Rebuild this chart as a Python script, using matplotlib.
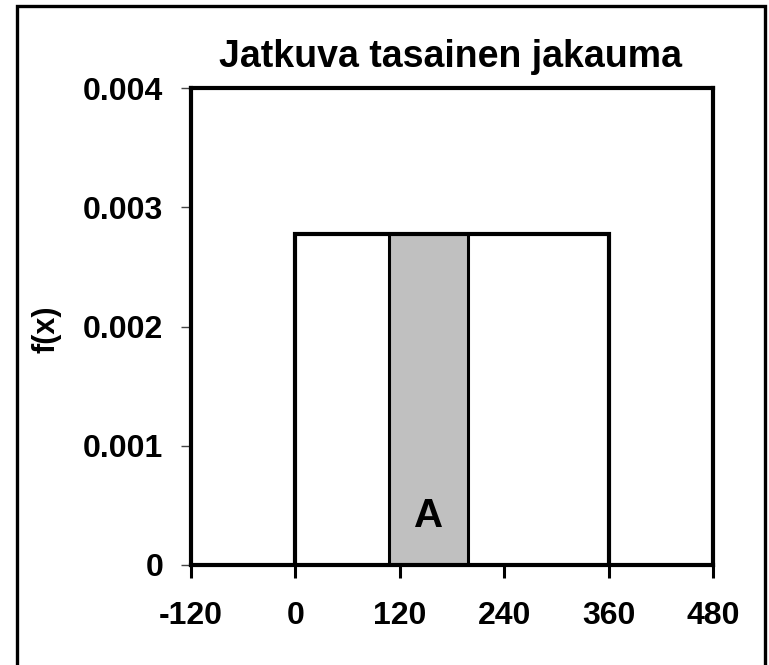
import matplotlib
matplotlib.use("Agg")
import matplotlib.pyplot as plt
from matplotlib.patches import Rectangle

plt.rcParams['font.family'] = ['Liberation Sans', 'DejaVu Sans']
plt.rcParams['font.weight'] = 'bold'

# Data
a, b = 0, 360                 # uniform distribution support
density = 1.0 / (b - a)       # f(x)
shade_lo, shade_hi = 108, 198  # shaded area A
x_ticks = [-120, 0, 120, 240, 360, 480]
y_ticks = [0, 0.001, 0.002, 0.003, 0.004]
y_tick_labels = ['0', '0.001', '0.002', '0.003', '0.004']
title = 'Jatkuva tasainen jakauma'
ylabel = 'f(x)'
area_label = 'A'

W, H = 769, 665
fig = plt.figure(figsize=(W / 100, H / 100), dpi=100)
ax = fig.add_axes([191 / W, 1 - 565 / H, (713 - 191) / W, (565 - 88) / H])

# Shaded area
ax.fill_between([shade_lo, shade_hi], 0, density, color='#C0C0C0', zorder=1)
ax.plot([shade_lo, shade_lo], [0, density], color='black', lw=2.2, zorder=2)
ax.plot([shade_hi, shade_hi], [0, density], color='black', lw=2.2, zorder=2)

# Uniform density outline
ax.plot([a, a, b, b], [0, density, density, 0], color='black', lw=3.0,
        solid_joinstyle='miter', zorder=3)

ax.text((shade_lo + shade_hi) / 2, 0.00041, area_label, ha='center', va='center',
        fontsize=29, fontweight='bold')

ax.set_xlim(x_ticks[0], x_ticks[-1])
ax.set_ylim(y_ticks[0], y_ticks[-1])
ax.set_xticks(x_ticks)
ax.set_xticklabels([str(t) for t in x_ticks])
ax.set_yticks(y_ticks)
ax.set_yticklabels(y_tick_labels)

for s in ax.spines.values():
    s.set_linewidth(3.0)
    s.set_color('black')

ax.tick_params(axis='x', direction='out', length=9, width=2.2, color='black',
               labelsize=23, pad=17)
ax.tick_params(axis='y', direction='out', length=7, width=1.0, color='#444444',
               labelsize=23, pad=13)
for lab in ax.get_xticklabels() + ax.get_yticklabels():
    lab.set_fontweight('bold')

fig.text(450 / W, 1 - 57 / H, title, ha='center', va='center',
         fontsize=27, fontweight='bold')
fig.text(47 / W, 1 - 329 / H, ylabel, ha='center', va='center', rotation=90,
         fontsize=22, fontweight='bold')

# Outer chart border
fig.patches.append(Rectangle((17 / W, -0.05), (765 - 17) / W, (6 / H) * -1 + 1.05,
                             transform=fig.transFigure, fill=False,
                             edgecolor='black', lw=2.4, clip_on=False))

fig.savefig('out.png', dpi=100)
